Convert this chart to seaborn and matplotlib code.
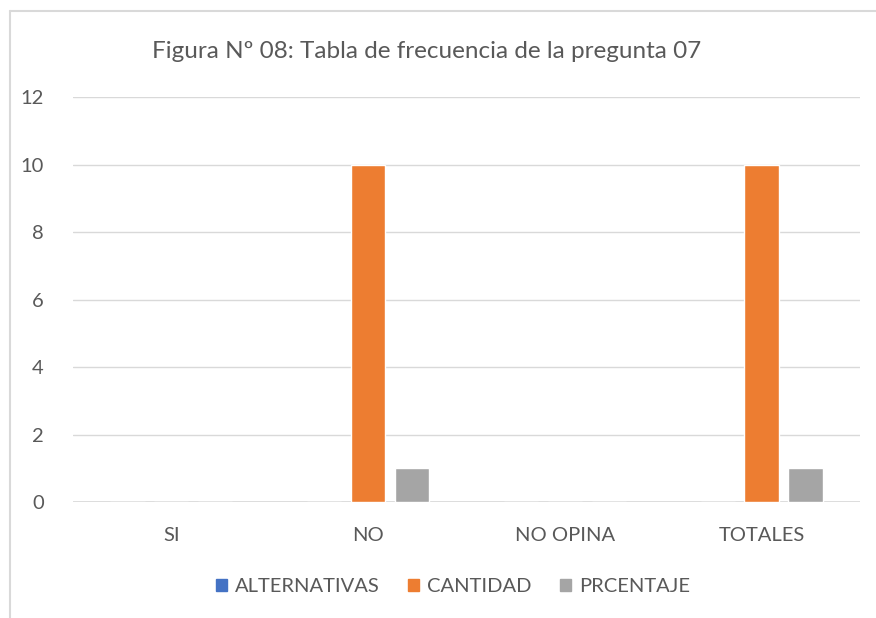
import pandas as pd
import numpy as np
import matplotlib.pyplot as plt
import seaborn as sns
from matplotlib.lines import Line2D

categorias = ['SI', 'NO', 'NO OPINA', 'TOTALES']
alternativas = [0, 0, 0, 0]
cantidad = [0, 10, 0, 10]
porcentaje = [0, 1, 0, 1]
series = ['ALTERNATIVAS', 'CANTIDAD', 'PRCENTAJE']
colores = ['#4472C4', '#ED7D31', '#A5A5A5']

df = pd.DataFrame({
    'categoria': categorias * 3,
    'serie': [series[0]] * 4 + [series[1]] * 4 + [series[2]] * 4,
    'valor': alternativas + cantidad + porcentaje,
})

sns.set_style('white')
plt.rcParams['font.family'] = ['Lato', 'DejaVu Sans']
texto = '#595959'

fig = plt.figure(figsize=(8.76, 6.18), dpi=100)
ax = fig.add_axes([0.0833, 0.1877, 0.8984, 0.6553])

sns.barplot(data=df, x='categoria', y='valor', hue='serie', order=categorias,
            hue_order=series, palette=colores, width=0.67, gap=0.22,
            saturation=1, ax=ax, legend=False)

ax.set_xlim(-0.5, 3.5)
ax.set_ylim(0, 12)
ax.set_yticks(np.arange(0, 13, 2))
ax.yaxis.grid(True, color='#D9D9D9', linewidth=1)
ax.set_axisbelow(True)
for s in ax.spines.values():
    s.set_visible(False)
ax.axhline(0, color='#D9D9D9', linewidth=1.2, zorder=0)
ax.tick_params(axis='x', length=0, labelsize=14.5, colors=texto, pad=18)
ax.tick_params(axis='y', length=0, labelsize=14.5, colors=texto, pad=21)
ax.set_xlabel('')
ax.set_ylabel('')

fig.text(427 / 876, 1 - 51 / 618, 'Figura Nº 08: Tabla de frecuencia de la pregunta 07',
         ha='center', va='center', fontsize=17.5, color=texto)

handles = [plt.Rectangle((0, 0), 1, 1, color=c) for c in colores]
fig.legend(handles, series, loc='center', bbox_to_anchor=(453 / 876, 1 - 587 / 618),
           ncol=3, frameon=False, fontsize=14.5, handlelength=0.55, handleheight=0.55,
           handletextpad=0.4, columnspacing=1.4, labelcolor=texto)

# borde del recuadro del gráfico
fig.add_artist(Line2D([9.5 / 876, 9.5 / 876], [0, 1 - 11 / 618], color='#D9D9D9',
                      linewidth=1.5, transform=fig.transFigure))
fig.add_artist(Line2D([9.5 / 876, 1], [1 - 11 / 618, 1 - 11 / 618], color='#D9D9D9',
                      linewidth=1.5, transform=fig.transFigure))

fig.savefig('out.png', dpi=100, facecolor='white')
